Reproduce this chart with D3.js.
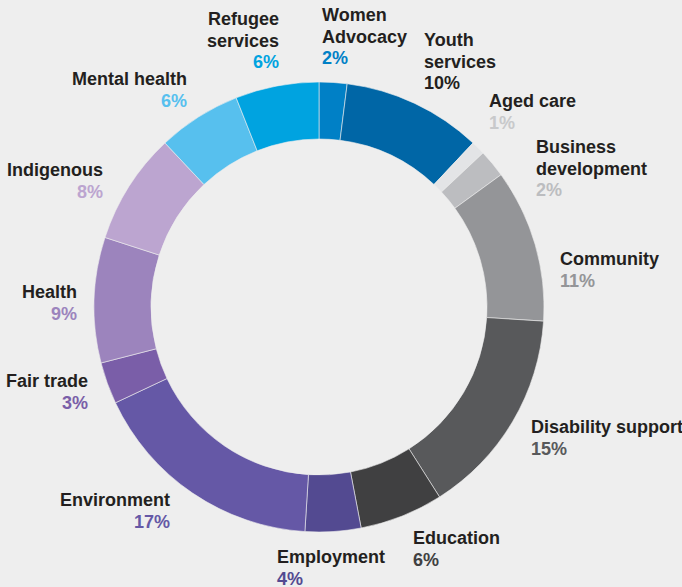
<!DOCTYPE html>
<html>
<head>
<meta charset="utf-8">
<script src="https://cdn.jsdelivr.net/npm/d3@7/dist/d3.min.js"></script>
<style>
  body { margin: 0; background: #eeeeee; }
  text { font-family: "Liberation Sans", Arial, sans-serif; font-weight: bold; font-size: 18px; }
</style>
</head>
<body>
<div id="chart"></div>
<script>
// data, clockwise from 12 o'clock
var categories = ["Women Advocacy", "Youth services", "Aged care", "Business development", "Community",
  "Disability support", "Education", "Employment", "Environment", "Fair trade", "Health",
  "Indigenous", "Mental health", "Refugee services"];
var shares = [2, 10, 1, 2, 11, 15, 6, 4, 17, 3, 9, 8, 6, 6];
var labelLines = [["Women", "Advocacy"], ["Youth", "services"], ["Aged care"], ["Business", "development"],
  ["Community"], ["Disability support"], ["Education"], ["Employment"], ["Environment"], ["Fair trade"],
  ["Health"], ["Indigenous"], ["Mental health"], ["Refugee", "services"]];

var colors = ["#0080c6", "#0066a6", "#e3e4e6", "#bcbdc0", "#949598", "#58595b", "#404041",
  "#534a91", "#6558a6", "#7a5ea8", "#9c84bd", "#bca5d0", "#57c0ee", "#00a3e0"];
var pctColors = ["#0080c6", "#231f20", "#c8c9cb", "#bcbdc0", "#949598", "#58595b", "#404041",
  "#534a91", "#6558a6", "#7a5ea8", "#9c84bd", "#bca5d0", "#57c0ee", "#00a3e0"];

// label anchors (x, first baseline, anchor) - hand placed like the original
var labelPos = [
  [322, 21, "start"], [424, 46, "start"], [489, 107, "start"], [536, 153, "start"],
  [560, 265, "start"], [531, 433, "start"], [413, 544, "start"], [277, 563, "start"],
  [170, 506, "end"], [88, 387, "end"], [77, 298, "end"], [103, 176, "end"],
  [187, 85, "end"], [279, 25, "end"]
];

var width = 682, height = 587;
var cx = 319, cy = 307, outerR = 225, innerR = 168;
var lineH = 21.5;

var svg = d3.select("#chart").append("svg")
  .attr("width", width)
  .attr("height", height);

var data = categories.map(function(c, i) { return {name: c, value: shares[i], i: i}; });

var pie = d3.pie().sort(null).value(function(d) { return d.value; });
var arc = d3.arc().innerRadius(innerR).outerRadius(outerR);

var g = svg.append("g").attr("transform", "translate(" + cx + "," + cy + ")");

g.selectAll("path")
  .data(pie(data))
  .enter().append("path")
  .attr("d", arc)
  .attr("fill", function(d) { return colors[d.data.i]; })
  .attr("stroke", "#eeeeee")
  .attr("stroke-width", 0.6);

// labels
var labels = svg.selectAll("g.lbl")
  .data(data)
  .enter().append("g")
  .attr("class", "lbl");

labels.each(function(d) {
  var p = labelPos[d.i];
  var t = d3.select(this).append("text")
    .attr("x", p[0])
    .attr("y", p[1])
    .attr("text-anchor", p[2]);
  var lines = labelLines[d.i];
  lines.forEach(function(l, k) {
    t.append("tspan")
      .attr("x", p[0])
      .attr("dy", k == 0 ? 0 : lineH)
      .attr("fill", "#231f20")
      .text(l);
  });
  t.append("tspan")
    .attr("x", p[0])
    .attr("dy", lineH)
    .attr("fill", pctColors[d.i])
    .text(d.value + "%");
});
</script>
</body>
</html>
